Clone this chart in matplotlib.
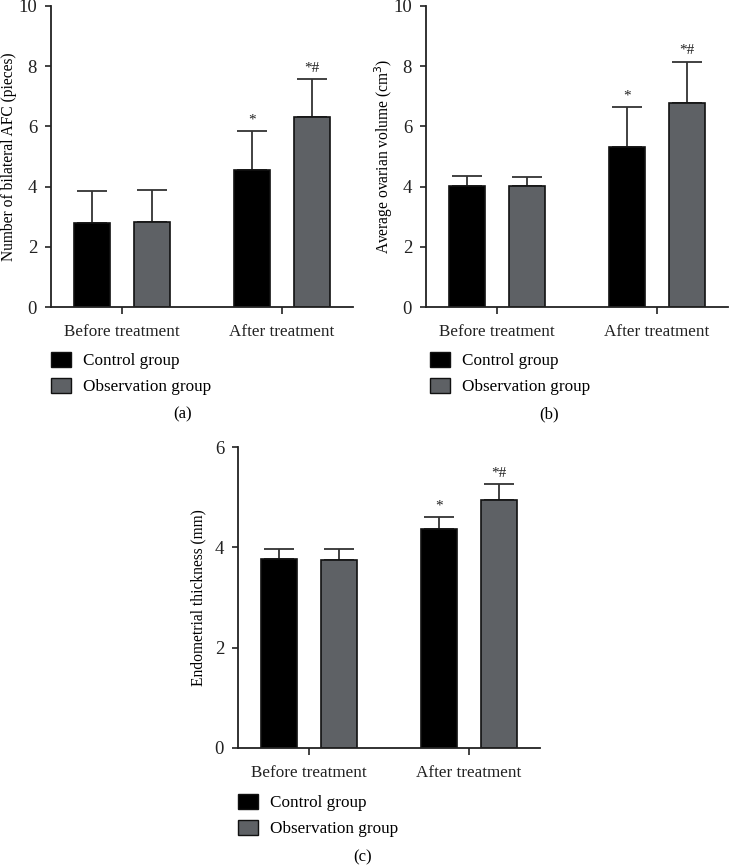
import matplotlib
matplotlib.use("Agg")
import matplotlib.pyplot as plt
import numpy as np
from matplotlib.patches import Patch

plt.rcParams['font.family'] = ['Liberation Serif', 'DejaVu Serif']

categories = ["Before treatment", "After treatment"]
groups = ["Control group", "Observation group"]
colors = ["#000000", "#5e6165"]

# panel (a): Number of bilateral AFC
afc_control = [2.80, 4.55]
afc_control_err = [1.07, 1.30]
afc_obs = [2.82, 6.30]
afc_obs_err = [1.06, 1.27]

# panel (b): Average ovarian volume
vol_control = [4.03, 5.30]
vol_control_err = [0.32, 1.35]
vol_obs = [4.02, 6.79]
vol_obs_err = [0.30, 1.36]

# panel (c): Endometrial thickness
thk_control = [3.77, 4.37]
thk_control_err = [0.19, 0.23]
thk_obs = [3.75, 4.94]
thk_obs_err = [0.21, 0.32]

marks_control = ["", "*"]
marks_obs = ["", "*#"]

W, H = 732, 866
fig = plt.figure(figsize=(W / 100, H / 100), dpi=100)


def make_ax(left, bottom_px, width, top_px):
    return fig.add_axes([left / W, 1 - bottom_px / H, width / W, (bottom_px - top_px) / H])


def panel(ax, c, ce, o, oe, ymax, yticks, ylabel, label_x, caption, cap_xy, leg_xy):
    x = np.arange(len(categories))
    off = 0.1875
    bw = 0.225
    for vals, errs, col, sgn, marks in [(c, ce, colors[0], -1, marks_control),
                                         (o, oe, colors[1], 1, marks_obs)]:
        ax.bar(x + sgn * off, vals, bw, color=col, edgecolor="#111111", linewidth=1.2, zorder=2)
        ax.errorbar(x + sgn * off, vals, yerr=[np.zeros(len(vals)), errs], fmt="none",
                    ecolor="#333333", elinewidth=1.3, capsize=11, capthick=1.3, zorder=1)
        for xi, v, e, m in zip(x + sgn * off, vals, errs, marks):
            if m:
                ax.text(xi, v + e + ymax * 0.015, m, ha="center", va="bottom", fontsize=11, color="#222222")
    ax.set_xlim(-0.444, 1.444)
    ax.set_ylim(0, ymax)
    ax.set_yticks(yticks)
    ax.set_xticks(x)
    ax.set_xticklabels(categories, fontsize=12.3)
    ax.tick_params(axis="y", labelsize=13.5, length=4, width=1.2, pad=6, colors="#222222")
    ax.tick_params(axis="x", length=5, width=1.2, pad=7, colors="#222222")
    for s in ["top", "right"]:
        ax.spines[s].set_visible(False)
    for s in ["left", "bottom"]:
        ax.spines[s].set_linewidth(1.3)
        ax.spines[s].set_color("#222222")
    ax.set_ylabel(ylabel, fontsize=11.2)
    ax.yaxis.set_label_coords(label_x, 0.5)
    handles = [Patch(facecolor=colors[0], edgecolor="#111111"),
               Patch(facecolor=colors[1], edgecolor="#111111")]
    fig.legend(handles, groups, loc="upper left", bbox_to_anchor=(leg_xy[0] / W, 1 - leg_xy[1] / H),
               frameon=False, fontsize=12.3, handlelength=1.15, handleheight=0.95,
               handletextpad=0.7, labelspacing=0.5, borderaxespad=0, borderpad=0)
    fig.text(cap_xy[0] / W, 1 - cap_xy[1] / H, caption, ha="center", va="center", fontsize=12)


ax_a = make_ax(51, 307, 302, 6)
panel(ax_a, afc_control, afc_control_err, afc_obs, afc_obs_err, 10, [0, 2, 4, 6, 8, 10],
      "Number of bilateral AFC (pieces)", -0.111, "(a)", (183, 414), (51, 352))

ax_b = make_ax(426, 307, 302, 6)
panel(ax_b, vol_control, vol_control_err, vol_obs, vol_obs_err, 10, [0, 2, 4, 6, 8, 10],
      "Average ovarian volume (cm$^3$)", -0.102, "(b)", (549, 414), (430, 352))

ax_c = make_ax(238, 748, 302, 447)
panel(ax_c, thk_control, thk_control_err, thk_obs, thk_obs_err, 6, [0, 2, 4, 6],
      "Endometrial thickness (mm)", -0.104, "(c)", (363, 857), (238, 794))

fig.savefig("out.png", dpi=100)
